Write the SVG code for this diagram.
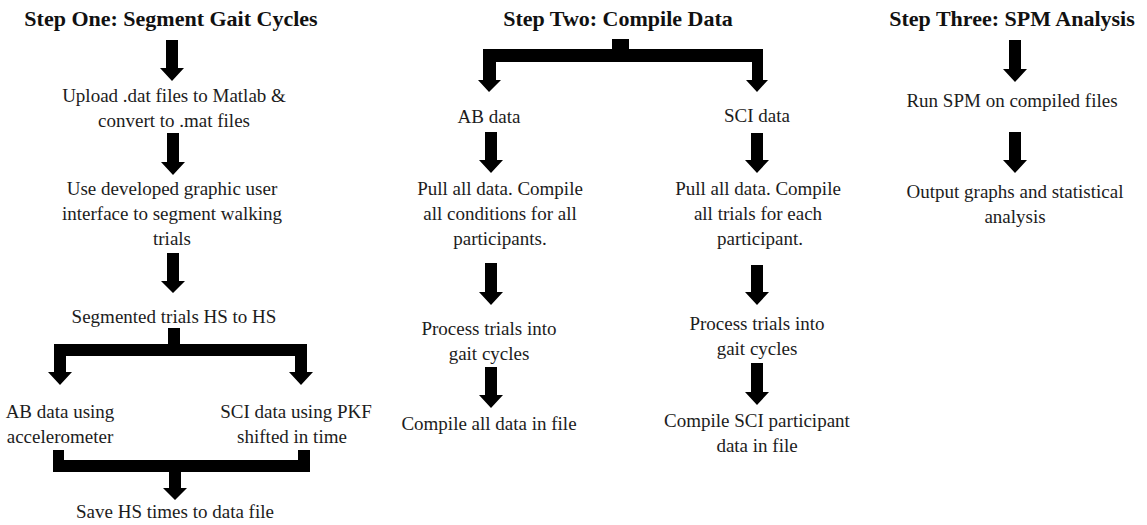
<svg xmlns="http://www.w3.org/2000/svg" width="1147" height="525" viewBox="0 0 1147 525">
<style>
text{font-family:"Liberation Serif","Times New Roman",serif;fill:#1c1c1c;text-anchor:middle;font-size:19px}
.title{font-weight:bold;font-size:22px;fill:#111}
.conn{fill:#000;stroke:none}
</style>
<rect width="1147" height="525" fill="#fff"/>
<g id="connectors" class="conn">
<!-- column 1 -->
<path d="M166,40H178V68H184L172,81L160,68H166Z"/>
<path d="M167,133H179V162H185L173,175L161,162H167Z"/>
<path d="M167,253H179V281H185L173,293L161,281H167Z"/>
<path d="M168,328H180V344H307V372H313L301,385L289,372H295V356H66V372H72L60,385L48,372H54V344H168Z"/>
<path d="M53,450H64V460H298V450H310V472H181V488H187L175,500L163,488H169V472H53Z"/>
<!-- column 2 -->
<path d="M612,39H629V49H763V80H768L757,92L746,80H752V62H496V80H501L489,92L478,80H483V49H612Z"/>
<path d="M485,132H497V160H503L491,173L479,160H485Z"/>
<path d="M485,263H497V292H503L491,305L479,292H485Z"/>
<path d="M485,367H497V395H503L491,408L479,395H485Z"/>
<path d="M751,133H763V160H769L757,173L745,160H751Z"/>
<path d="M751,265H763V292H769L757,305L745,292H751Z"/>
<path d="M751,363H763V392H769L757,405L745,392H751Z"/>
<!-- column 3 -->
<path d="M1009,40H1021V69H1027L1015,82L1003,69H1009Z"/>
<path d="M1009,132H1021V160H1027L1015,173L1003,160H1009Z"/>
</g>
<g id="title1"><text class="title" x="171" y="26">Step One: Segment Gait Cycles</text></g>
<g id="title2"><text class="title" x="618" y="26">Step Two: Compile Data</text></g>
<g id="title3"><text class="title" x="1012" y="26">Step Three: SPM Analysis</text></g>
<g id="upload"><text x="174" y="102">Upload .dat files to Matlab &amp;</text><text x="174" y="127">convert to .mat files</text></g>
<g id="gui"><text x="172" y="195">Use developed graphic user</text><text x="172" y="220">interface to segment walking</text><text x="172" y="245">trials</text></g>
<g id="segmented"><text x="174" y="323">Segmented trials HS to HS</text></g>
<g id="ab-accel"><text x="60" y="418">AB data using</text><text x="60" y="443">accelerometer</text></g>
<g id="sci-pkf"><text x="296" y="418">SCI data using PKF</text><text x="292" y="443">shifted in time</text></g>
<g id="save"><text x="175" y="518">Save HS times to data file</text></g>
<g id="ab-data"><text x="489" y="123">AB data</text></g>
<g id="ab-pull"><text x="500" y="195">Pull all data. Compile</text><text x="500" y="220">all conditions for all</text><text x="500" y="245">participants.</text></g>
<g id="ab-process"><text x="489" y="335">Process trials into</text><text x="489" y="360">gait cycles</text></g>
<g id="ab-compile"><text x="489" y="430">Compile all data in file</text></g>
<g id="sci-data"><text x="757" y="122">SCI data</text></g>
<g id="sci-pull"><text x="758" y="195">Pull all data. Compile</text><text x="758" y="220">all trials for each</text><text x="760" y="245">participant.</text></g>
<g id="sci-process"><text x="757" y="330">Process trials into</text><text x="757" y="355">gait cycles</text></g>
<g id="sci-compile"><text x="757" y="427">Compile SCI participant</text><text x="757" y="452">data in file</text></g>
<g id="spm-run"><text x="1012" y="107">Run SPM on compiled files</text></g>
<g id="spm-output"><text x="1015" y="198">Output graphs and statistical</text><text x="1015" y="223">analysis</text></g>
</svg>
